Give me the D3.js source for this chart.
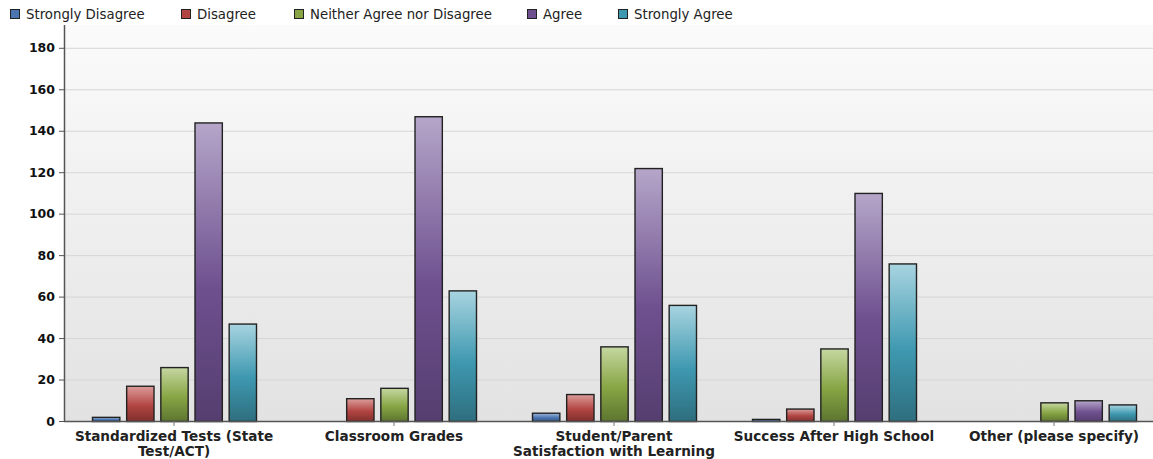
<!DOCTYPE html>
<html>
<head>
<meta charset="utf-8">
<script src="https://cdn.jsdelivr.net/npm/d3@7"></script>
<style>
  body { margin: 0; background: #fff; }
  svg { display: block; font-family: "DejaVu Sans", Verdana, sans-serif; }
</style>
</head>
<body>
<svg id="chart" width="1153" height="459"></svg>
<script>
const categories = [
  ['Standardized Tests (State', 'Test/ACT)'],
  ['Classroom Grades'],
  ['Student/Parent', 'Satisfaction with Learning'],
  ['Success After High School'],
  ['Other (please specify)']
];
const seriesNames = ['Strongly Disagree', 'Disagree', 'Neither Agree nor Disagree', 'Agree', 'Strongly Agree'];
const stronglyDisagree = [2, 0, 4, 1, 0];
const disagree = [17, 11, 13, 6, 0];
const neither = [26, 16, 36, 35, 9];
const agree = [144, 147, 122, 110, 10];
const stronglyAgree = [47, 63, 56, 76, 8];
const yTicks = [0, 20, 40, 60, 80, 100, 120, 140, 160, 180];

const series = [stronglyDisagree, disagree, neither, agree, stronglyAgree];
// light / mid / dark for each series
const colors = [
  ['#9fb8dc', '#4a75b0', '#34547f'],
  ['#dc9d9b', '#b24542', '#7f2f2d'],
  ['#c5d7a1', '#87a544', '#5d7530'],
  ['#b5a6c9', '#6e508f', '#553e6f'],
  ['#a8d4e0', '#3e98b0', '#2e6e7e']
];
const legendX = [10, 181, 294, 527, 618];

const svg = d3.select('#chart');
const left = 64, plotTop = 25, bottom = 421;

const x0 = d3.scaleBand().domain(d3.range(categories.length)).range([left, left + 220 * 5]);
const x1 = d3.scaleBand().domain(d3.range(series.length)).range([28, 192]).paddingInner(0.2).paddingOuter(0);
const y = d3.scaleLinear().domain([0, 191]).range([bottom, plotTop]);

const defs = svg.append('defs');
const bg = defs.append('linearGradient').attr('id', 'bg').attr('x1', 0).attr('y1', 0).attr('x2', 0).attr('y2', 1);
bg.append('stop').attr('offset', '0%').attr('stop-color', '#fbfbfb');
bg.append('stop').attr('offset', '100%').attr('stop-color', '#e2e2e2');

colors.forEach((c, i) => {
  const g = defs.append('linearGradient').attr('id', 'g' + i).attr('x1', 0).attr('y1', 0).attr('x2', 0).attr('y2', 1);
  g.append('stop').attr('offset', '0%').attr('stop-color', c[0]);
  g.append('stop').attr('offset', '55%').attr('stop-color', c[1]);
  g.append('stop').attr('offset', '100%').attr('stop-color', c[2]);
});

svg.append('rect').attr('x', left).attr('y', plotTop).attr('width', 1153 - left).attr('height', bottom - plotTop)
  .attr('fill', 'url(#bg)');

// grid
svg.append('g').selectAll('line').data(yTicks.slice(1)).enter().append('line')
  .attr('x1', left).attr('x2', 1153).attr('y1', d => y(d) + 0.5).attr('y2', d => y(d) + 0.5)
  .attr('stroke', '#d6d6d6');

// bars
series.forEach((vals, si) => {
  const pts = vals.map((v, ci) => ({ v: v, ci: ci })).filter(d => d.v > 0);
  svg.append('g').selectAll('rect').data(pts).enter().append('rect')
    .attr('x', d => x0(d.ci) + x1(si) + 0.5)
    .attr('y', d => y(d.v) + 0.5)
    .attr('width', x1.bandwidth())
    .attr('height', d => bottom - y(d.v))
    .attr('fill', 'url(#g' + si + ')')
    .attr('stroke', '#222')
    .attr('stroke-width', 1.4);
});

// y axis
const yAxis = svg.append('g').attr('transform', `translate(${left},0)`)
  .call(d3.axisLeft(y).tickValues(yTicks).tickSize(5).tickPadding(4));
yAxis.select('.domain').attr('stroke', '#555').attr('stroke-width', 1.5).attr('d', `M0.5,${plotTop}V${bottom}`);
yAxis.selectAll('.tick line').attr('stroke', '#555');
yAxis.selectAll('.tick text').attr('font-weight', 'bold').attr('fill', '#111')
  .attr('font-family', '"DejaVu Sans", Verdana, sans-serif').style('font-size', '12.5px');

// x axis
svg.append('line').attr('x1', left).attr('x2', 1153).attr('y1', bottom + 0.5).attr('y2', bottom + 0.5)
  .attr('stroke', '#555').attr('stroke-width', 1.5);
const xt = svg.append('g').selectAll('g').data(categories).enter().append('g')
  .attr('transform', (d, i) => `translate(${x0(i) + x0.bandwidth() / 2},0)`);
xt.append('line').attr('y1', bottom).attr('y2', bottom + 5).attr('stroke', '#777');
xt.each(function(lines) {
  const t = d3.select(this).append('text').attr('text-anchor', 'middle')
    .attr('font-size', 13.6).attr('font-weight', 'bold').attr('fill', '#222');
  lines.forEach((l, k) => t.append('tspan').attr('x', 0).attr('y', 441 + k * 15).text(l));
});

// legend
const lg = svg.append('g').selectAll('g').data(seriesNames).enter().append('g')
  .attr('transform', (d, i) => `translate(${legendX[i]},0)`);
lg.append('rect').attr('x', 0.5).attr('y', 9.5).attr('width', 9).attr('height', 9)
  .attr('fill', (d, i) => colors[i][1]).attr('stroke', '#222');
lg.append('text').attr('x', 16).attr('y', 19).attr('font-size', 13.3).attr('fill', '#222').text(d => d);
</script>
</body>
</html>
